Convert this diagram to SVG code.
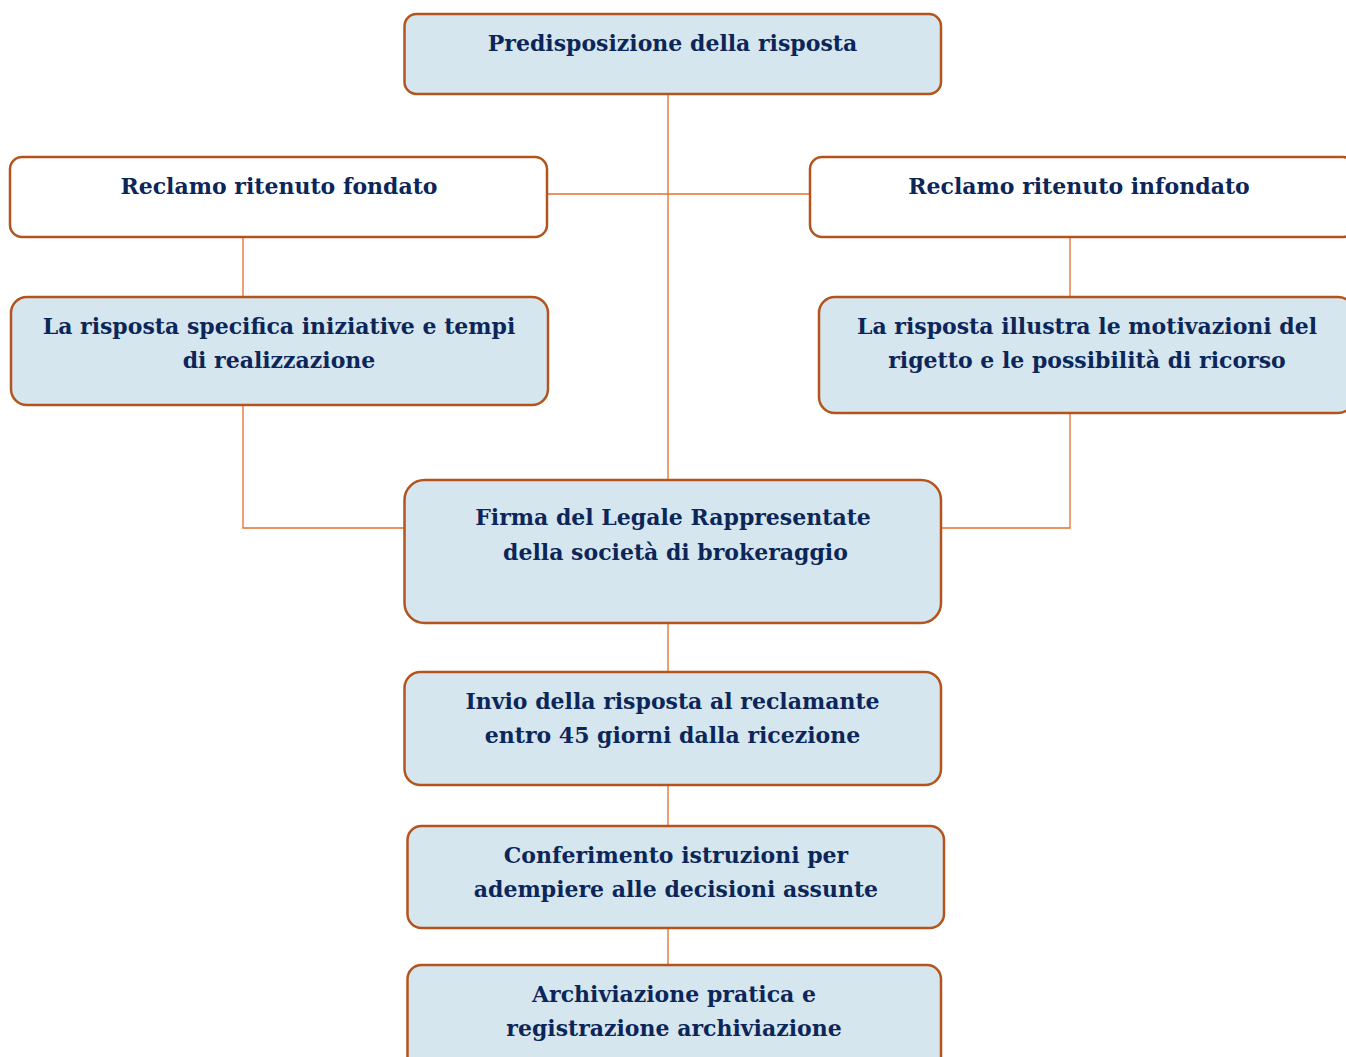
<svg xmlns="http://www.w3.org/2000/svg" width="1346" height="1057" viewBox="0 0 1346 1057">
<style>
.box{fill:#d6e6ef;stroke:#b4541c;stroke-width:2.5}
.wbox{fill:#ffffff;stroke:#b4541c;stroke-width:2.5}
.t{font-family:"DejaVu Serif","Liberation Serif",serif;font-weight:bold;font-size:22px;fill:#0c2659;text-anchor:middle}
.c{stroke:#e2702c;stroke-width:1.3;fill:none}
</style>
<rect width="1346" height="1057" fill="#ffffff"/>
<g id="connectors">
<path class="c" d="M668 94V480M547 194H810M243 237V297M243 405V528H404M1070 237V297M1070 413V528H941M668 623V672M668 785V826M668 928V965"/>
</g>
<g id="n1"><rect class="box" x="404.5" y="14" width="536.5" height="80" rx="12"/><text class="t" x="672.5" y="51">Predisposizione della risposta</text></g>
<g id="n2"><rect class="wbox" x="10" y="157" width="537" height="80" rx="12"/><text class="t" x="279" y="194">Reclamo ritenuto fondato</text></g>
<g id="n3"><rect class="wbox" x="810" y="157" width="545" height="80" rx="12"/><text class="t" x="1079" y="194">Reclamo ritenuto infondato</text></g>
<g id="n4"><rect class="box" x="11" y="297" width="537" height="108" rx="16"/><text class="t" x="279" y="334">La risposta specifica iniziative e tempi</text><text class="t" x="279" y="368">di realizzazione</text></g>
<g id="n5"><rect class="box" x="819" y="297" width="535" height="116" rx="16"/><text class="t" x="1087" y="334">La risposta illustra le motivazioni del</text><text class="t" x="1087" y="368">rigetto e le possibilità di ricorso</text></g>
<g id="n6"><rect class="box" x="404.5" y="480" width="536.5" height="143" rx="20"/><text class="t" x="673" y="525">Firma del Legale Rappresentate</text><text class="t" x="675.5" y="560">della società di brokeraggio</text></g>
<g id="n7"><rect class="box" x="404.5" y="672" width="536.5" height="113" rx="16"/><text class="t" x="672.5" y="709">Invio della risposta al reclamante</text><text class="t" x="672.5" y="743">entro 45 giorni dalla ricezione</text></g>
<g id="n8"><rect class="box" x="407.5" y="826" width="536.5" height="102" rx="14"/><text class="t" x="676" y="863">Conferimento istruzioni per</text><text class="t" x="676" y="897">adempiere alle decisioni assunte</text></g>
<g id="n9"><rect class="box" x="407.5" y="965" width="533.5" height="110" rx="14"/><text class="t" x="674" y="1002">Archiviazione pratica e</text><text class="t" x="674" y="1036">registrazione archiviazione</text></g>
</svg>
